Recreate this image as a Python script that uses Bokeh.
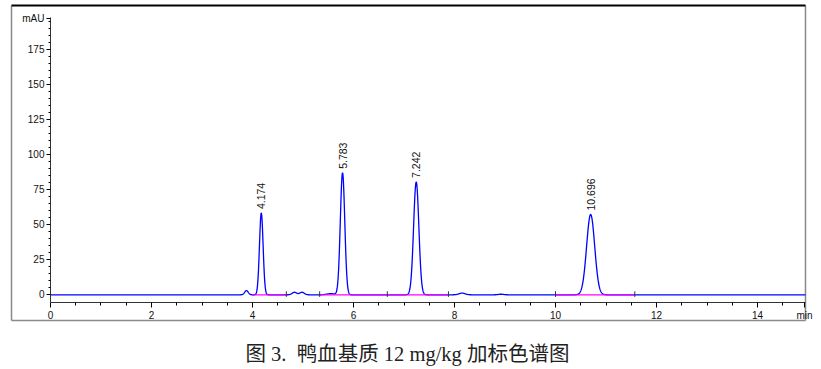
import numpy as np
from bokeh.plotting import figure
from bokeh.models import Range1d, FixedTicker, ColumnDataSource, LinearAxis
from bokeh.embed import file_html
from bokeh.resources import INLINE
from bokeh.core.properties import value

# ---- data ----
peak_rt = [3.88, 4.174, 4.83, 4.98, 5.55, 5.783, 7.242, 8.15, 8.92, 10.696]
peak_height = [3.0, 58.3, 1.8, 1.8, 0.8, 87.0, 80.5, 1.2, 0.4, 57.3]
peak_sigma = [0.035, 0.036, 0.045, 0.045, 0.08, 0.044, 0.052, 0.06, 0.05, 0.08]

labeled_rt = [4.174, 5.783, 7.242, 10.696]
labeled_height = [58.3, 87.0, 80.5, 57.3]
labeled_text = ["4.174", "5.783", "7.242", "10.696"]

baseline_start = [3.99, 5.33, 6.67, 10.0]
baseline_end = [4.67, 6.67, 7.88, 11.57]
baseline_marks = [4.67, 5.33, 6.67, 7.88, 10.0, 11.57]

y_major = [0, 25, 50, 75, 100, 125, 150, 175]
x_major = [0, 2, 4, 6, 8, 10, 12, 14]
caption = "图 3.\u00a0 鸭血基质 12 mg/kg 加标色谱图"

X_MAX = 14.95            # end of the time axis (min)
Y_MIN, Y_MAX = -5.5, 198.0
# box drawn around the chromatogram, in data units
BOX_L, BOX_R, BOX_B, BOX_T = -0.7723, 14.95, -18.33, 206.4
CAP_X, CAP_Y = 3.861, -41.9

# chromatogram trace built from the peak table
t = np.linspace(0, X_MAX, 4000)
signal = np.zeros_like(t)
for rt, h, s in zip(peak_rt, peak_height, peak_sigma):
    signal += h * np.exp(-0.5 * ((t - rt) / s) ** 2)

# the plot frame covers the whole canvas; axes sit at fixed locations
p = figure(width=821, height=369, output_backend="svg", toolbar_location=None,
           x_range=Range1d(-0.990, 15.267), y_range=Range1d(-53.3, 209.96),
           x_axis_type=None, y_axis_type=None,
           min_border_left=0, min_border_right=0, min_border_top=0,
           min_border_bottom=0, background_fill_color="white",
           border_fill_color="white")
p.outline_line_color = None
p.xgrid.visible = False
p.ygrid.visible = False

tick_font = "Liberation Sans Narrow, Arial Narrow, Liberation Sans"

yaxis = LinearAxis(fixed_location=0, bounds=(Y_MIN, Y_MAX))
yaxis.ticker = FixedTicker(ticks=y_major + [197.0],
                           minor_ticks=[v for v in range(5, 196, 5) if v % 25 != 0])
yaxis.major_label_overrides = {197.0: "mAU"}
yaxis.major_tick_out = 4
yaxis.major_tick_in = 0
yaxis.minor_tick_out = 2
yaxis.minor_tick_in = 0
yaxis.major_label_standoff = 2
yaxis.major_label_text_font = tick_font
yaxis.major_label_text_font_size = "10px"
yaxis.major_label_text_color = "#111111"
yaxis.axis_line_color = "#333333"
p.add_layout(yaxis, "left")

xaxis = LinearAxis(fixed_location=Y_MIN, bounds=(0, X_MAX))
xaxis.ticker = FixedTicker(ticks=x_major + [14.93],
                           minor_ticks=[v / 2 for v in range(1, 30) if v % 4 != 0])
xaxis.major_label_overrides = {14.93: "min"}
xaxis.major_tick_out = 5
xaxis.major_tick_in = 0
xaxis.minor_tick_out = 3
xaxis.minor_tick_in = 0
xaxis.major_label_standoff = 2
xaxis.major_label_text_font = tick_font
xaxis.major_label_text_font_size = "10px"
xaxis.major_label_text_color = "#111111"
xaxis.axis_line_color = "#333333"
p.add_layout(xaxis, "below")

# box around the chart: grey left/bottom/right, black top
p.segment(x0=[BOX_L, BOX_L, BOX_R], y0=[BOX_B, BOX_B, BOX_B],
          x1=[BOX_L, BOX_R, BOX_R], y1=[BOX_T, BOX_B, BOX_T],
          line_color="#8a8a8a", line_width=1.5)
p.segment(x0=[BOX_L], y0=[BOX_T], x1=[BOX_R], y1=[BOX_T],
          line_color="black", line_width=2)

# trace
p.line(t, signal, line_color="#0000ff", line_width=1.3)

# integration baselines
p.segment(x0=baseline_start, y0=[0] * 4, x1=baseline_end, y1=[0] * 4,
          line_color="#ff00ff", line_width=1.3)
p.segment(x0=baseline_marks, y0=[-1.5] * 6, x1=baseline_marks, y1=[2.5] * 6,
          line_color="#333333", line_width=1)

# peak labels
src = ColumnDataSource(dict(x=labeled_rt, y=labeled_height, txt=labeled_text))
p.text(x="x", y="y", text="txt", source=src, angle=np.pi / 2,
       text_align="left", text_baseline="middle", y_offset=-4,
       text_font=value("Liberation Sans"), text_font_size="10.5px",
       text_color="#111111")

# caption under the box
p.text(x=[CAP_X], y=[CAP_Y], text=[caption], text_align="left",
       text_baseline="middle",
       text_font=value("Liberation Serif, Noto Sans CJK SC"),
       text_font_size="20.5px", text_color="#222222")

open("out.html", "w").write(file_html(p, INLINE))
